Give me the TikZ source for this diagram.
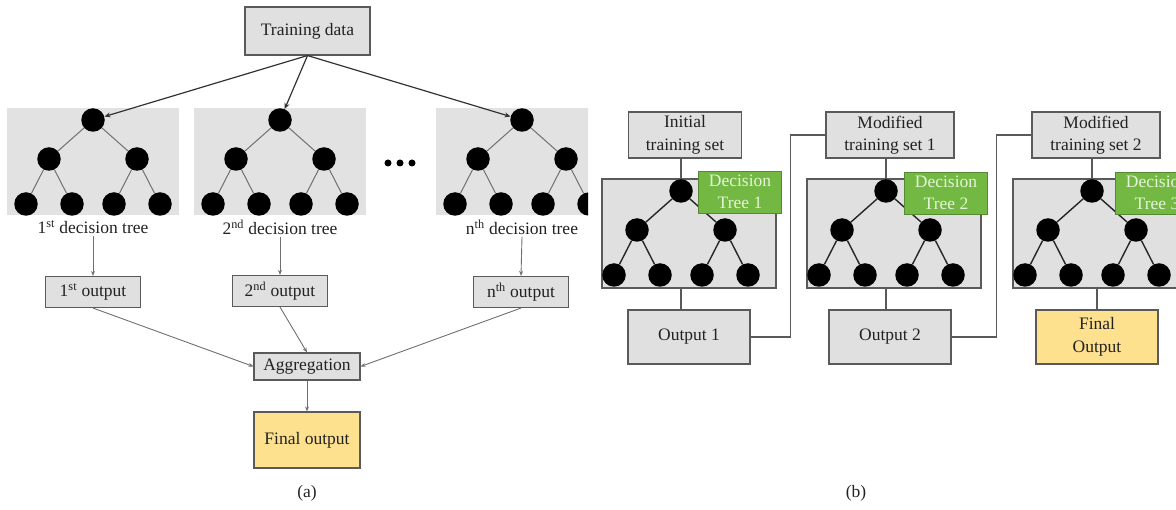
\documentclass[tikz,border=0pt]{standalone}
\usepackage{fontspec}
\setmainfont{Liberation Serif}
\usetikzlibrary{arrows.meta,calc}
\definecolor{boxgray}{HTML}{E0E0E0}
\definecolor{panelgray}{HTML}{E2E2E2}
\definecolor{edgegray}{HTML}{5A5A5A}
\definecolor{fingold}{HTML}{FDE18E}
\definecolor{treegreen}{HTML}{72B843}
\definecolor{greentext}{HTML}{E6F4D6}
\definecolor{linegray}{HTML}{707070}
\definecolor{txt}{HTML}{222222}

\newcommand\dtree[4]{%
  \node[circ] (#1r) at (#2,#3) {};
  \node[circ] (#1a) at ({#2-44},{#3+39}) {};
  \node[circ] (#1b) at ({#2+44},{#3+39}) {};
  \node[circ] (#1c) at ({#2-67},{#3+84}) {};
  \node[circ] (#1d) at ({#2-21},{#3+84}) {};
  \node[circ] (#1e) at ({#2+21},{#3+84}) {};
  \node[circ] (#1f) at ({#2+67},{#3+84}) {};
  \draw[#4] (#1r) -- (#1a);
  \draw[#4] (#1r) -- (#1b);
  \draw[#4] (#1a) -- (#1c);
  \draw[#4] (#1a) -- (#1d);
  \draw[#4] (#1b) -- (#1e);
  \draw[#4] (#1b) -- (#1f);
}

\begin{document}
\begin{tikzpicture}[x=1pt,y=-1pt,
  every node/.style={font=\fontsize{17.5}{22.5}\selectfont, text=txt},
  gbox/.style={draw=edgegray, line width=1.1pt, fill=boxgray, inner sep=0pt, align=center},
  ybox/.style={gbox, fill=fingold},
  panelA/.style={fill=panelgray, draw=none, inner sep=0pt, minimum width=172pt, minimum height=107pt},
  panelB/.style={fill=boxgray, draw=edgegray, line width=1.1pt, inner sep=0pt, minimum width=174pt, minimum height=109pt},
  circ/.style={circle, fill=black, inner sep=0pt, minimum size=23.5pt},
  edgeA/.style={draw=linegray, line width=1pt},
  edgeB/.style={draw=black!85, line width=1.4pt},
  arrtop/.style={-{Stealth[length=6pt,width=5pt]}, line width=1.2pt, draw=black!80},
  arrlow/.style={-{Stealth[length=5pt,width=4pt]}, line width=0.9pt, draw=linegray},
  link/.style={draw=edgegray, line width=1.1pt},
  greenbox/.style={fill=treegreen, draw=treegreen!75!black, line width=0.8pt, text=greentext,
    minimum width=83pt, minimum height=42pt, inner sep=0pt, align=center},
  lab/.style={inner sep=2pt},
  dot/.style={circle, fill=black, inner sep=0pt, minimum size=7pt}
]
\useasboundingbox (0,0) rectangle (1176,510);
\clip (0,0) rectangle (1176,510);

% ================= (a) =================
\node[gbox, minimum width=125pt, minimum height=48pt] (td) at (307.5,31) {Training data};

\node[panelA] (pa1) at (93,161.5) {};
\node[panelA] (pa2) at (280,161.5) {};
\dtree{ta}{93}{120}{edgeA}
\dtree{tb}{280}{120}{edgeA}
\begin{scope}
  \clip (0,0) rectangle (588,300);
  \node[panelA] (pan) at (522,161.5) {};
  \dtree{tn}{522}{120}{edgeA}
\end{scope}

\node[dot] (d1) at (388,163) {};
\node[dot] (d2) at (400,163) {};
\node[dot] (d3) at (412,163) {};

\draw[arrtop] (td.south) -- (tar);
\draw[arrtop] (td.south) -- (tbr);
\draw[arrtop] (td.south) -- (tnr);

\node[lab] (l1) at (93,227) {1\textsuperscript{st} decision tree};
\node[lab] (l2) at (280,227) {2\textsuperscript{nd} decision tree};
\node[lab] (ln) at (522,227) {n\textsuperscript{th} decision tree};

\node[gbox, minimum width=95pt, minimum height=31pt] (o1) at (93,292) {1\textsuperscript{st} output};
\node[gbox, minimum width=95pt, minimum height=31pt] (o2) at (280,291) {2\textsuperscript{nd} output};
\node[gbox, minimum width=95pt, minimum height=31pt] (on) at (521,292) {n\textsuperscript{th} output};

\draw[arrlow] (l1.south) -- (o1.north);
\draw[arrlow] (l2.south) -- (o2.north);
\draw[arrlow] (ln.south) -- (on.north);

\node[gbox, minimum width=106pt, minimum height=27pt] (agg) at (307,366.5) {Aggregation};
\node[ybox, minimum width=106pt, minimum height=56pt] (fin) at (307,440) {Final output};

\draw[arrlow] (o1.south) -- (agg.west);
\draw[arrlow] (o2.south) -- (agg.north);
\draw[arrlow] (on.south) -- (agg.east);
\draw[arrlow] (agg.south) -- (fin.north);

\node (cap1) at (307,493) {(a)};

% ================= (b) =================
\node[gbox, minimum width=113pt, minimum height=46pt] (s0) at (685,135) {Initial\\training set};
\node[gbox, minimum width=128pt, minimum height=46pt] (s1) at (890,135) {Modified\\training set 1};
\node[gbox, minimum width=128pt, minimum height=46pt] (s2) at (1096,135) {Modified\\training set 2};

\node[panelB] (pb1) at (689,233.5) {};
\node[panelB] (pb2) at (894,233.5) {};
\node[panelB] (pb3) at (1100,233.5) {};
\dtree{ua}{681}{191}{edgeB}
\dtree{ub}{886}{191}{edgeB}
\dtree{uc}{1092}{191}{edgeB}

\node[greenbox] (g1) at (740,192) {Decision\\Tree 1};
\node[greenbox] (g2) at (946,193) {Decision\\Tree 2};
\node[greenbox] (g3) at (1157,193) {Decision\\Tree 3};

\draw[link] (uar |- s0.south) -- (uar.north);
\draw[link] (ubr |- s1.south) -- (ubr.north);
\draw[link] (ucr |- s2.south) -- (ucr.north);

\node[gbox, minimum width=122pt, minimum height=54pt] (p1) at (689,337) {Output 1};
\node[gbox, minimum width=122pt, minimum height=54pt] (p2) at (890,337) {Output 2};
\node[ybox, minimum width=122pt, minimum height=54pt] (pf) at (1097,337) {Final\\Output};

\draw[link] (uar |- pb1.south) -- (uar |- p1.north);
\draw[link] (ubr |- pb2.south) -- (ubr |- p2.north);
\draw[link] (pf.north |- pb3.south) -- (pf.north);

\draw[link] (p1.east) -- ++(40,0) |- (s1.west);
\draw[link] (p2.east) -- ++(45,0) |- (s2.west);

\node (cap2) at (856,493) {(b)};
\end{tikzpicture}
\end{document}
